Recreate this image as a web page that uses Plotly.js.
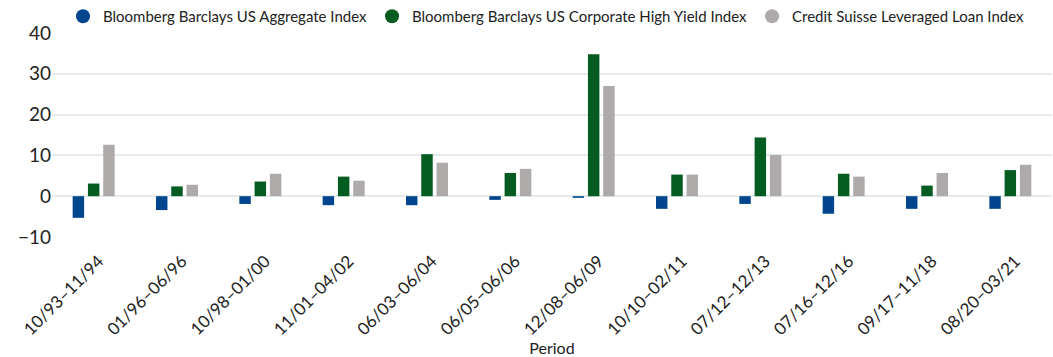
<!DOCTYPE html>
<html><head><meta charset="utf-8">
<script src="https://cdn.plot.ly/plotly-3.0.1.min.js"></script>
<style>html,body{margin:0;padding:0;background:#fff}#chart{width:1053px;height:357px}</style>
</head><body><div id="chart"></div>
<script>
const periods = ["10/93–11/94","01/96–06/96","10/98–01/00","11/01–04/02","06/03–06/04","06/05–06/06","12/08–06/09","10/10–02/11","07/12–12/13","07/16–12/16","09/17–11/18","08/20–03/21"];
const aggregate = [-5.3,-3.4,-1.9,-2.2,-2.2,-0.9,-0.4,-3.1,-1.9,-4.3,-3.1,-3.1];
const highYield = [3.1,2.4,3.6,4.8,10.3,5.7,34.8,5.3,14.4,5.5,2.6,6.4];
const leveragedLoan = [12.6,2.8,5.5,3.8,8.2,6.7,27.0,5.3,10.1,4.8,5.7,7.7];
const names = ["Bloomberg Barclays US Aggregate Index","Bloomberg Barclays US Corporate High Yield Index","Credit Suisse Leveraged Loan Index"];
const colors = ["#00458d","#045c21","#aeaaaa"];
const series = [aggregate, highYield, leveragedLoan];
const traces = series.map((s,i)=>({type:"bar",x:periods,y:s,name:names[i],marker:{color:colors[i]},showlegend:false}));
// legend entries drawn with circle markers
series.forEach((s,i)=>traces.push({type:"scatter",mode:"markers",x:[periods[0]],y:[null],name:names[i],marker:{color:colors[i],size:14,symbol:"circle"},showlegend:true,hoverinfo:"skip"}));
const layout = {
  width:1053,height:357,
  margin:{l:52,r:1,t:30,b:120},
  font:{family:"Lato, 'Open Sans', sans-serif",color:"#222"},
  barmode:"group",bargap:0.45,bargroupgap:0.25,
  showlegend:true,
  legend:{orientation:"h",xref:"container",x:0.519,xanchor:"center",yref:"container",y:1.0,yanchor:"top",font:{size:15,color:"#222"},itemwidth:30,traceorder:"normal",tracegroupgap:0},
  xaxis:{range:[-0.5,11.5],tickangle:-45,tickfont:{size:17,color:"#222"},ticklabelstandoff:10,ticklabelshift:5,title:{text:"Period",font:{size:16,color:"#222"},standoff:14},showgrid:false,ticks:"",automargin:false},
  yaxis:{range:[-10,40],dtick:10,tickfont:{size:19,color:"#222"},gridcolor:"#e5ebed",gridwidth:2,zeroline:true,zerolinecolor:"#e5ebed",zerolinewidth:2,ticks:"",ticklen:0,automargin:false},
  plot_bgcolor:"#fff",paper_bgcolor:"#fff"
};
Plotly.newPlot("chart",traces,layout,{displayModeBar:false,staticPlot:true});
</script></body></html>
